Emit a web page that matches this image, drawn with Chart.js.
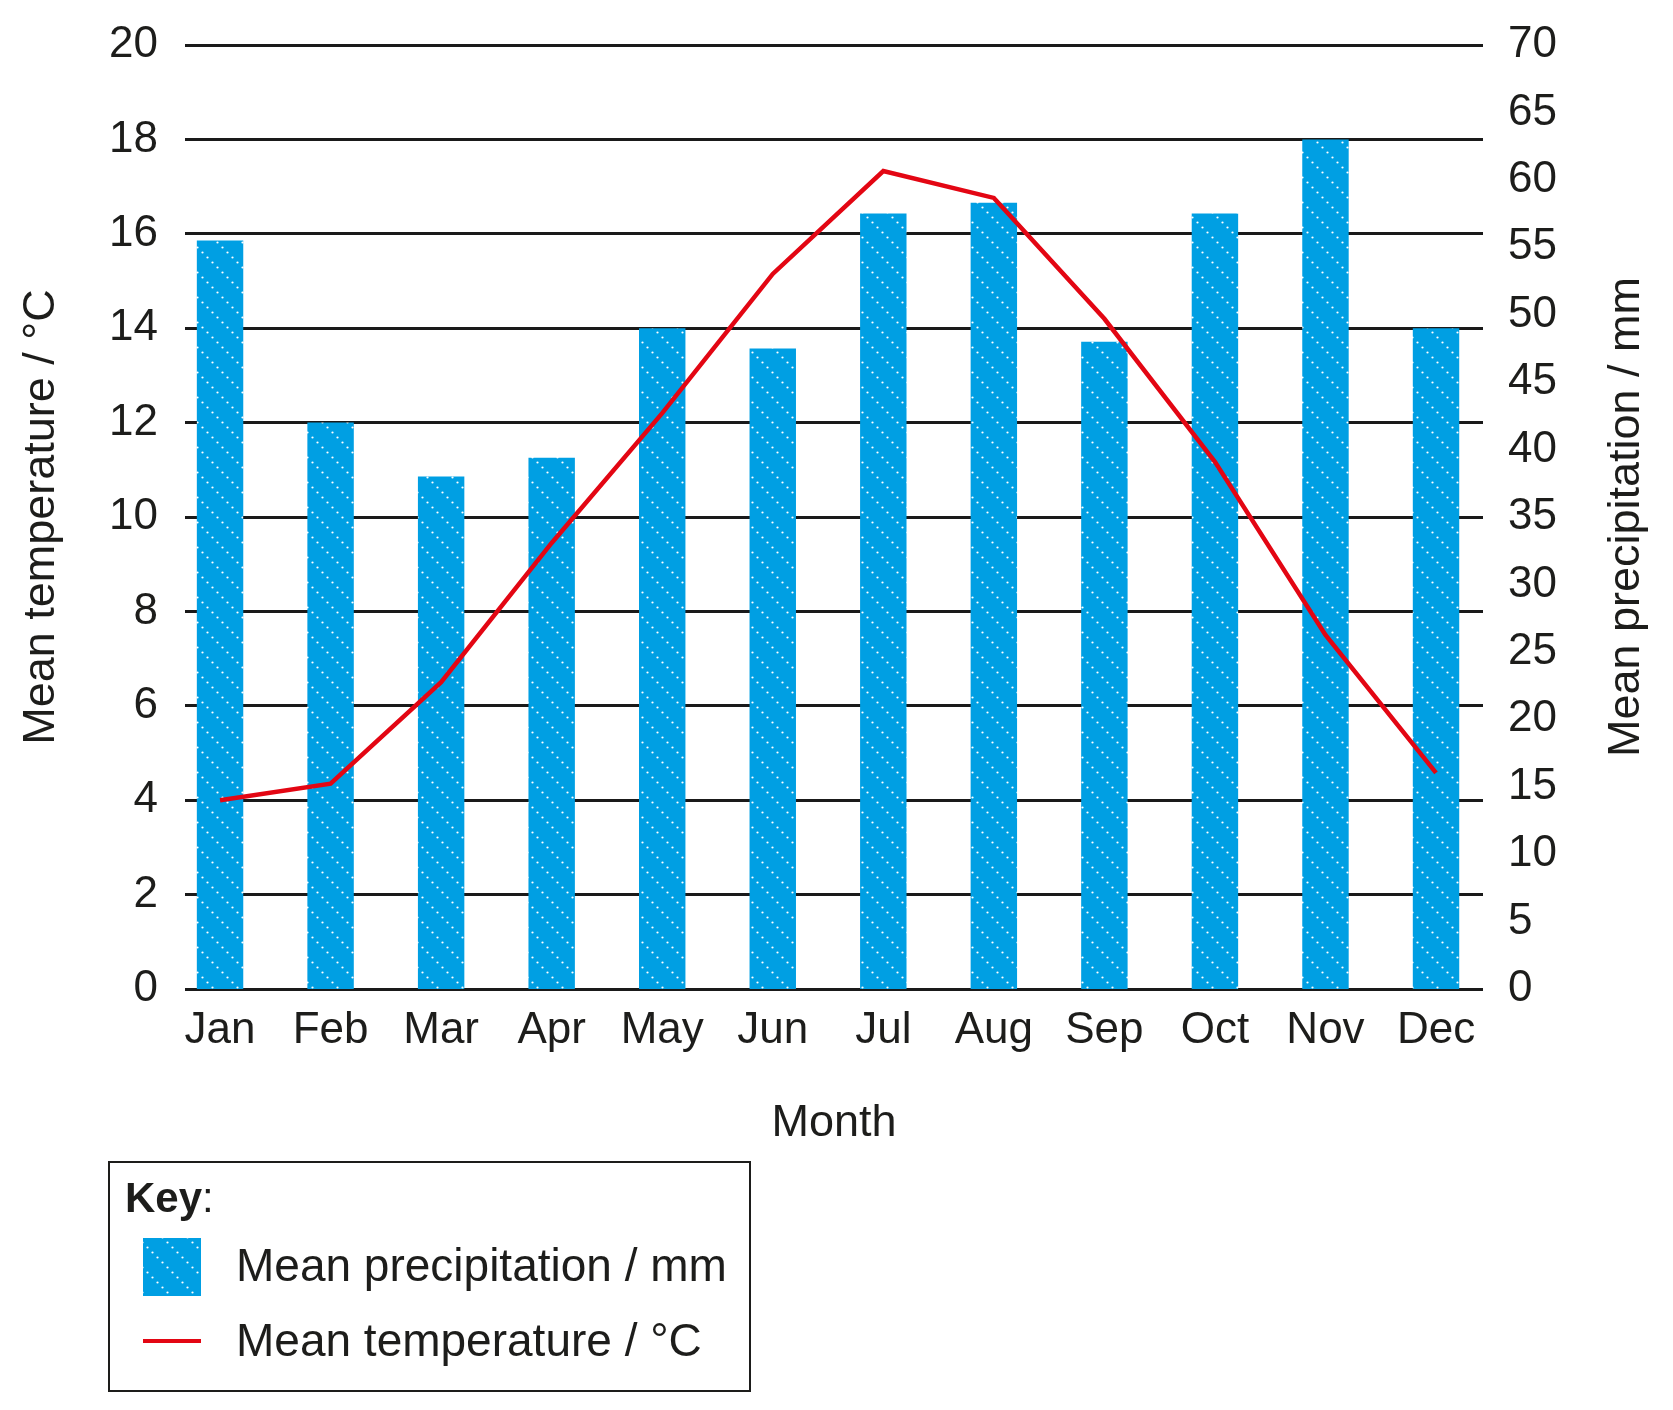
<!DOCTYPE html>
<html>
<head>
<meta charset="utf-8">
<script src="https://cdn.jsdelivr.net/npm/chart.js@4.4.1/dist/chart.umd.min.js"></script>
<style>
  body { margin: 0; background: #fff; }
  canvas { display: block; }
</style>
</head>
<body>
<canvas id="chart" width="1673" height="1410"></canvas>
<script>
"use strict";

const months = ["Jan", "Feb", "Mar", "Apr", "May", "Jun", "Jul", "Aug", "Sep", "Oct", "Nov", "Dec"];
const temperature = [4.0, 4.35, 6.5, 9.45, 12.2, 15.15, 17.33, 16.76, 14.2, 11.17, 7.5, 4.58];
const precipitation = [55.5, 42, 38, 39.4, 49, 47.5, 57.5, 58.3, 48, 57.5, 63, 49];
const tempTicks = [0, 2, 4, 6, 8, 10, 12, 14, 16, 18, 20];
const precipTicks = [0, 5, 10, 15, 20, 25, 30, 35, 40, 45, 50, 55, 60, 65, 70];

const tempLabel = "Mean temperature / °C";
const precipLabel = "Mean precipitation / mm";

const FONT = "'Liberation Sans', Arial, Helvetica, sans-serif";
const INK = "#1d1d1b";
const BLUE = "#009fe3";
const RED = "#e30613";

// dotted diagonal fill used by the bars and the key
function makePattern() {
  const tile = document.createElement("canvas");
  tile.width = 25;
  tile.height = 25;
  const c = tile.getContext("2d");
  c.fillStyle = BLUE;
  c.fillRect(0, 0, 25, 25);
  c.fillStyle = "#ffffff";
  for (let i = 0; i < 5; i++) {
    c.beginPath();
    c.arc(i * 5 + 2.5, i * 5 + 2.5, 1.1, 0, Math.PI * 2);
    c.fill();
  }
  return document.getElementById("chart").getContext("2d").createPattern(tile, "repeat");
}
const dots = makePattern();

const extras = {
  id: "extras",
  afterDraw(chart) {
    const ctx = chart.ctx;
    const area = chart.chartArea;
    ctx.save();
    // right axis title, reading bottom to top
    ctx.fillStyle = INK;
    ctx.font = "45px " + FONT;
    ctx.textAlign = "center";
    ctx.textBaseline = "middle";
    ctx.translate(1627, (area.top + area.bottom) / 2);
    ctx.rotate(-Math.PI / 2);
    ctx.fillText(precipLabel, 0, 0);
    ctx.restore();

    // key box
    ctx.save();
    ctx.strokeStyle = INK;
    ctx.lineWidth = 2;
    ctx.strokeRect(109, 1162, 641, 229);
    ctx.fillStyle = INK;
    ctx.textBaseline = "middle";
    ctx.textAlign = "left";
    ctx.font = "bold 42px " + FONT;
    ctx.fillText("Key", 125, 1200);
    const kw = ctx.measureText("Key").width;
    ctx.font = "42px " + FONT;
    ctx.fillText(":", 125 + kw, 1200);

    ctx.fillStyle = dots;
    ctx.fillRect(143, 1238, 58, 58);
    ctx.strokeStyle = RED;
    ctx.lineWidth = 4;
    ctx.beginPath();
    ctx.moveTo(143, 1341);
    ctx.lineTo(201, 1341);
    ctx.stroke();

    ctx.fillStyle = INK;
    ctx.font = "46px " + FONT;
    ctx.fillText(precipLabel, 236, 1268);
    ctx.fillText(tempLabel, 236, 1343);
    ctx.restore();
  }
};

function noEdgePadding(scale) {
  scale.paddingTop = 0;
  scale.paddingBottom = 0;
}

const ctx = document.getElementById("chart");
const myChart = new Chart(ctx, {
  type: "bar",
  data: {
    datasets: [
      {
        type: "line",
        label: tempLabel,
        data: temperature.map((t, i) => ({ x: i, y: t })),
        yAxisID: "y",
        borderColor: RED,
        borderWidth: 4.5,
        pointRadius: 0,
        tension: 0,
        order: 0,
      },
      {
        type: "bar",
        label: precipLabel,
        data: precipitation.map((p, i) => ({ x: i, y: p })),
        yAxisID: "y1",
        backgroundColor: dots,
        borderWidth: 0,
        barPercentage: 0.42,
        categoryPercentage: 1,
        order: 1,
      },
    ],
  },
  options: {
    responsive: false,
    animation: false,
    layout: { padding: { top: 45, bottom: 250, left: 0, right: 0 } },
    plugins: {
      legend: { display: false },
      tooltip: { enabled: false },
    },
    scales: {
      x: {
        type: "linear",
        min: -0.317,
        max: 11.425,
        offset: false,
        grid: { display: false },
        border: { display: false },
        afterBuildTicks: (scale) => {
          scale.ticks = months.map((m, i) => ({ value: i }));
        },
        afterFit: (scale) => {
          scale.height = 171;
        },
        ticks: {
          color: INK,
          font: { family: FONT, size: 44 },
          padding: 7,
          maxRotation: 0,
          autoSkip: false,
          callback: (value) => months[value],
        },
        title: {
          display: true,
          text: "Month",
          color: INK,
          font: { family: FONT, size: 45 },
          padding: { top: 0, bottom: 9 },
        },
      },
      y: {
        position: "left",
        min: 0,
        max: 20,
        afterBuildTicks: (scale) => {
          scale.ticks = tempTicks.map((v) => ({ value: v }));
        },
        afterFit: (scale) => {
          scale.width = 185;
          noEdgePadding(scale);
        },
        grid: { color: "#1a1a1a", lineWidth: 3, drawTicks: false },
        border: { display: false },
        ticks: {
          color: INK,
          font: { family: FONT, size: 44 },
          padding: 27,
        },
        title: {
          display: true,
          text: tempLabel,
          color: INK,
          font: { family: FONT, size: 45 },
          padding: { top: 15, bottom: 0 },
        },
      },
      y1: {
        position: "right",
        min: 0,
        max: 70,
        afterBuildTicks: (scale) => {
          scale.ticks = precipTicks.map((v) => ({ value: v }));
        },
        afterFit: (scale) => {
          scale.width = 190;
          noEdgePadding(scale);
        },
        grid: { display: false, drawTicks: false },
        border: { display: false },
        ticks: {
          color: INK,
          font: { family: FONT, size: 44 },
          padding: 25,
        },
      },
    },
  },
  plugins: [extras],
});
</script>
</body>
</html>
